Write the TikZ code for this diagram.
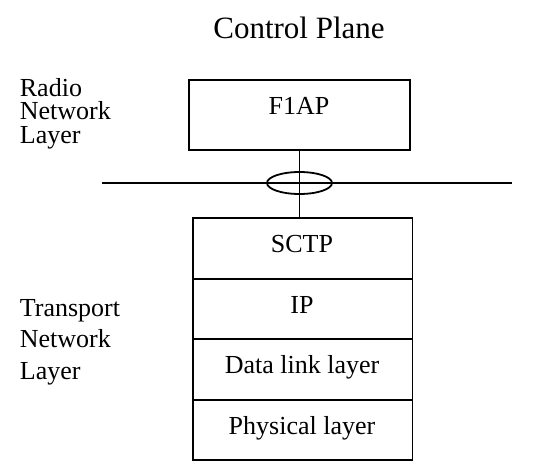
\documentclass[tikz,border=0pt]{standalone}
\usepackage{fontspec}
\setmainfont{Liberation Serif}
\usetikzlibrary{shapes.geometric}
\begin{document}
\begin{tikzpicture}[x=1pt,y=-1pt,line width=1.8pt,
  layerbox/.style={draw,rectangle,inner sep=0pt,minimum width=#1},
  stackrow/.style={draw,rectangle,inner sep=0pt,minimum width=219.5pt,minimum height=#1},
  lbl/.style={anchor=base,inner sep=0pt,font=\fontsize{26}{30}\selectfont},
  side/.style={anchor=base west,inner sep=0pt,align=left}]
\useasboundingbox (0,0) rectangle (533,469);
% title
\node[anchor=base,inner sep=0pt,font=\fontsize{31}{36}\selectfont] (title) at (299,38) {Control Plane};
% F1AP box
\node[layerbox=221pt,minimum height=70pt] (f1ap) at (299.5,115) {};
\node[lbl] (f1aptxt) at (299,114) {F1AP};
% transport stack
\node[stackrow=61pt] (sctp) at (302.75,248.5) {};
\node[stackrow=60pt] (ip) at (302.75,309) {};
\node[stackrow=61pt] (dll) at (302.75,369.5) {};
\node[stackrow=60pt] (phy) at (302.75,430) {};
\node[lbl] (sctptxt) at (302,252) {SCTP};
\node[lbl] (iptxt) at (302,313) {IP};
\node[lbl] (dlltxt) at (302,373) {Data link layer};
\node[lbl] (phytxt) at (302,434) {Physical layer};
% interface line
\coordinate (hl) at (102,183);
\coordinate (hr) at (512,183);
\draw (hl) -- (hr);
\draw (f1ap.south) -- (f1ap.south |- sctp.north);
\node[draw,ellipse,inner sep=0pt,minimum width=65pt,minimum height=22pt] (ell) at (f1ap.south |- hl) {};
% side labels (base = baseline of last line)
\node[side,font=\fontsize{26}{23.5}\selectfont] (rnl) at (19,143) {Radio\\Network\\Layer};
\node[side,font=\fontsize{26}{31.5}\selectfont] (tnl) at (19,379) {Transport\\Network\\Layer};
\end{tikzpicture}
\end{document}
